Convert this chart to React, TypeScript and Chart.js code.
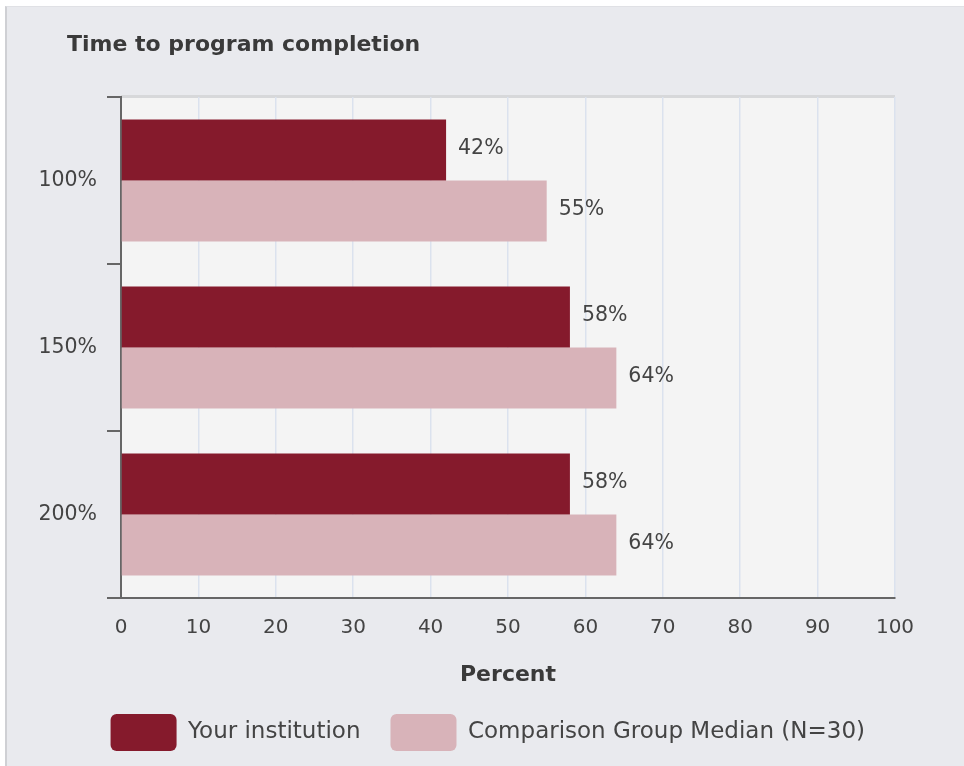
import { useEffect, useRef } from "react";
import { Chart, registerables } from "chart.js";

Chart.register(...registerables);

const chartTitle = "Time to program completion";
const xAxisTitle = "Percent";
const categories = ["100%", "150%", "200%"];
const seriesNames = ["Your institution", "Comparison Group Median (N=30)"];
const institutionValues = [42, 58, 58];
const comparisonValues = [55, 64, 64];
const xMin = 0;
const xMax = 100;
const xStep = 10;

const FONT = "'DejaVu Sans', Verdana, sans-serif";

const plotBgPlugin = {
  id: "plotBg",
  beforeDraw(chart: any) {
    const { ctx, chartArea: a } = chart;
    ctx.save();
    ctx.fillStyle = "#f4f4f4";
    ctx.fillRect(a.left, a.top, a.right - a.left, a.bottom - a.top);
    ctx.fillStyle = "#d7d8da";
    ctx.fillRect(a.left, a.top - 2, a.right - a.left, 3);
    ctx.font = `bold 22px ${FONT}`;
    ctx.fillStyle = "#3a3a3a";
    ctx.textAlign = "left";
    ctx.textBaseline = "alphabetic";
    ctx.fillText(chartTitle, 67, 51);
    ctx.restore();
  },
};

const valueLabelPlugin = {
  id: "valueLabels",
  afterDatasetsDraw(chart: any) {
    const { ctx } = chart;
    ctx.save();
    ctx.font = `20.5px ${FONT}`;
    ctx.fillStyle = "#444444";
    ctx.textAlign = "left";
    ctx.textBaseline = "middle";
    chart.data.datasets.forEach((ds: any, i: number) => {
      chart.getDatasetMeta(i).data.forEach((bar: any, j: number) => {
        ctx.fillText(`${ds.data[j]}%`, bar.x + 12, bar.y - 1);
      });
    });
    ctx.restore();
  },
};

export default function App() {
  const canvasRef = useRef<HTMLCanvasElement | null>(null);

  useEffect(() => {
    if (!canvasRef.current) return;
    const chart = new Chart(canvasRef.current, {
      type: "bar",
      data: {
        labels: categories,
        datasets: [
          {
            label: seriesNames[0],
            data: institutionValues,
            backgroundColor: "#851a2c",
            borderWidth: 0,
            barPercentage: 1,
            categoryPercentage: 0.73,
          },
          {
            label: seriesNames[1],
            data: comparisonValues,
            backgroundColor: "#d8b3b9",
            borderWidth: 0,
            barPercentage: 1,
            categoryPercentage: 0.73,
          },
        ],
      },
      options: {
        indexAxis: "y",
        animation: false,
        responsive: false,
        devicePixelRatio: 1,
        layout: { padding: { left: 20, right: 69, top: 97, bottom: 5 } },
        scales: {
          x: {
            type: "linear",
            min: xMin,
            max: xMax,
            ticks: {
              stepSize: xStep,
              font: { family: FONT, size: 20 },
              color: "#444444",
              padding: 18,
            },
            grid: { color: "#dbe2ee", lineWidth: 1.5, drawTicks: false },
            border: { display: true, color: "#666666", width: 2 },
            title: {
              display: true,
              text: xAxisTitle,
              font: { family: FONT, size: 22, weight: "bold" },
              color: "#3a3a3a",
              padding: { top: 4, bottom: -4 },
            },
            afterFit(scale: any) {
              scale.height = 86;
            },
          },
          y: {
            type: "category",
            ticks: {
              font: { family: FONT, size: 20.5 },
              color: "#444444",
              padding: 10,
            },
            grid: {
              display: true,
              drawOnChartArea: false,
              drawTicks: true,
              tickLength: 14,
              color: "#666666",
              lineWidth: 2,
              offset: true,
            },
            border: { display: true, color: "#666666", width: 2 },
            afterFit(scale: any) {
              scale.width = 101;
            },
          },
        },
        plugins: {
          legend: {
            position: "bottom",
            align: "end",
            labels: {
              boxWidth: 66,
              boxHeight: 37,
              padding: 30,
              useBorderRadius: true,
              borderRadius: 6,
              color: "#444444",
              font: { family: FONT, size: 23 },
            },
          },
          tooltip: { enabled: false },
          title: { display: false },
        },
      },
      plugins: [plotBgPlugin, valueLabelPlugin],
    } as any);
    return () => chart.destroy();
  }, []);

  return (
    <div
      style={{
        position: "absolute",
        left: 0,
        top: 0,
        width: 964,
        height: 766,
        background: "#ffffff",
        overflow: "hidden",
      }}
    >
      <div
        style={{
          position: "absolute",
          left: 5,
          top: 6,
          right: 0,
          bottom: 0,
          background: "#e9eaee",
          borderLeft: "2px solid #cfd0d4",
          borderTop: "1px solid #e0e1e5",
        }}
      />
      <canvas
        ref={canvasRef}
        width={964}
        height={766}
        style={{ position: "absolute", left: 0, top: 0, width: 964, height: 766 }}
      />
    </div>
  );
}
